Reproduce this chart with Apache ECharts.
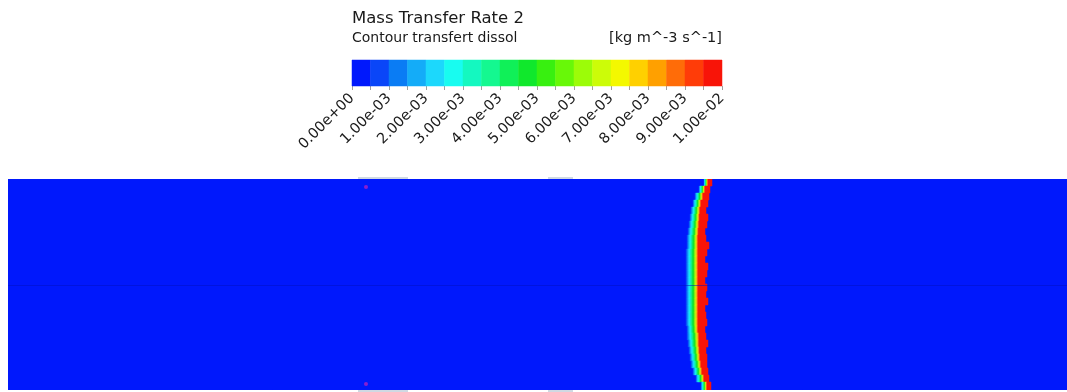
<!DOCTYPE html>
<html><head><meta charset="utf-8">
<script src="https://cdn.jsdelivr.net/npm/echarts@6/dist/echarts.min.js"></script>
<style>html,body{margin:0;padding:0;background:#fff}#c{width:1067px;height:392px}</style>
</head><body><div id="c"></div>
<script>
// 20 colour bands of the legend (low -> high)
const bandColors = ['#0018fc','#0a46f8','#0a7cf4','#14acf8','#1cd8fc','#18fcf0','#14f8c0','#14f890','#10f058','#10e82c',
                    '#38f010','#68f808','#9cfc08','#ccfc08','#f4f800','#ffd000','#ffa000','#ff6c08','#ff3c08','#f81408'];
const bandLevels = [0,0.0005,0.001,0.0015,0.002,0.0025,0.003,0.0035,0.004,0.0045,0.005,
                    0.0055,0.006,0.0065,0.007,0.0075,0.008,0.0085,0.009,0.0095,0.01];
const tickLabels = ['0.00e+00','1.00e-03','2.00e-03','3.00e-03','4.00e-03','5.00e-03',
                    '6.00e-03','7.00e-03','8.00e-03','9.00e-03','1.00e-02'];

// domain (pipe section) extents, in domain units
const domainX = [0, 1059];
const domainY = [0, 211];
const backgroundValue = 0;

// front rows: row edges (y) and, per row, start of gradient, start / end of the red core
const rowEdges = [0,7,14,21,28,35,42,49,56,63,70,77,84,91,98,105,112,119,126,133,140,
                  147,154,161,168,175,182,189,196,203,211];
const frontLeft = [696,691,687,685,683,682,681,680,679,679,678,678,678,678,678,678,678,678,678,678,
                   678,679,679,680,681,682,683,685,688,693];
const redLeft   = [700,697,695,693,692,691.5,691,690.5,690,690,690,690,690,690,690,690,690,690,690,690,
                   690,690,691,691,691.5,692,693,694,696,699];
const redRight  = [704,702,701,700,698,700,699,697,698,701,699,697,700,699,697,699,698,700,697,698,
                   699,697,698,700,698,699,699,700,701,703];
// cross-section of the value through the gradient, left to right
const gradientValues = [0.0008,0.0012,0.0017,0.0022,0.0027,0.0032,0.0037,0.0042,0.0047,0.0053,0.006,0.0068,0.0078,0.0088];
const coreValue = 0.0099;

// small details
const tabs = [[350,400],[540,565]];
const hotSpots = [[358,8],[358,205]];
const centerLineY = 106;

function bandIndex(v){ return Math.max(0, Math.min(bandColors.length - 1, Math.floor(v / 0.0005 + 1e-9))); }

const cells = [[domainX[0], domainX[1], domainY[0], domainY[1], backgroundValue]];
for (let k = 0; k < frontLeft.length; k++) {
  const y0 = rowEdges[k], y1 = rowEdges[k + 1];
  const n = gradientValues.length;
  const w = (redLeft[k] - frontLeft[k]) / n;
  for (let j = 0; j < n; j++) {
    cells.push([frontLeft[k] + j * w, frontLeft[k] + (j + 1) * w, y0, y1, gradientValues[j]]);
  }
  cells.push([redLeft[k], redRight[k], y0, y1, coreValue]);
}
const legendCells = [];
for (let i = 0; i < bandLevels.length - 1; i++) {
  legendCells.push([bandLevels[i], bandLevels[i + 1], 0, 1, (bandLevels[i] + bandLevels[i + 1]) / 2]);
}
const tabCells = [];
tabs.forEach(t => { tabCells.push([t[0], t[1], -2, 0]); tabCells.push([t[0], t[1], 211, 213]); });

function rectOf(api) {
  const p0 = api.coord([api.value(0), api.value(2)]);
  const p1 = api.coord([api.value(1), api.value(3)]);
  return {x: Math.min(p0[0], p1[0]), y: Math.min(p0[1], p1[1]),
          width: Math.abs(p1[0] - p0[0]), height: Math.abs(p1[1] - p0[1])};
}
function renderCell(params, api) {
  const c = bandColors[bandIndex(api.value(4))];
  return {type: 'rect', shape: rectOf(api), style: {fill: c, stroke: c, lineWidth: 0.5}};
}
function renderTab(params, api) {
  return {type: 'rect', shape: rectOf(api), style: {fill: '#cfd9e3'}};
}

const chart = echarts.init(document.getElementById('c'), null, {renderer: 'canvas'});
const font = 'DejaVu Sans, sans-serif';
chart.setOption({
  animation: false,
  backgroundColor: '#ffffff',
  title: [
    {text: 'Mass Transfer Rate 2', left: 352, top: 10, padding: 0,
     textStyle: {fontSize: 16.5, fontWeight: 'normal', color: '#1a1a1a', fontFamily: font}},
    {text: 'Contour transfert dissol', left: 352, top: 31, padding: 0,
     textStyle: {fontSize: 14, fontWeight: 'normal', color: '#1a1a1a', fontFamily: font}},
    {text: '[kg m^-3 s^-1]', right: 345, top: 31, padding: 0,
     textStyle: {fontSize: 14.5, fontWeight: 'normal', color: '#1a1a1a', fontFamily: font}}
  ],
  grid: [
    {left: 8, top: 179, width: 1059, height: 211, containLabel: false},
    {left: 352, top: 60, width: 370, height: 26, containLabel: false}
  ],
  xAxis: [
    {gridIndex: 0, type: 'value', min: domainX[0], max: domainX[1], show: false},
    {gridIndex: 1, type: 'value', min: 0, max: 0.01, interval: 0.001,
     axisLine: {show: false}, splitLine: {show: false},
     axisTick: {show: true, length: 4, lineStyle: {color: '#a0a0a0'}},
     minorTick: {show: true, splitNumber: 2, length: 4, lineStyle: {color: '#a0a0a0'}},
     axisLabel: {rotate: 45, margin: 10, fontSize: 14.5, color: '#1a1a1a', fontFamily: font,
                 formatter: function (v) { return tickLabels[Math.round(v / 0.001)]; }}}
  ],
  yAxis: [
    {gridIndex: 0, type: 'value', min: domainY[0], max: domainY[1], inverse: true, show: false},
    {gridIndex: 1, type: 'value', min: 0, max: 1, show: false}
  ],
  series: [
    {type: 'custom', xAxisIndex: 0, yAxisIndex: 0, renderItem: renderCell, data: cells,
     encode: {x: [0, 1], y: [2, 3]}, silent: true, clip: true,
     markLine: {silent: true, symbol: ['none', 'none'], label: {show: false},
                lineStyle: {color: '#0010c0', width: 1, type: 'solid', opacity: 0.5},
                data: [{yAxis: centerLineY}]}},
    {type: 'custom', xAxisIndex: 0, yAxisIndex: 0, renderItem: renderTab, data: tabCells,
     encode: {x: [0, 1], y: [2, 3]}, silent: true, clip: false},
    {type: 'scatter', xAxisIndex: 0, yAxisIndex: 0, data: hotSpots, symbol: 'circle', symbolSize: 4,
     itemStyle: {color: '#a020c8', opacity: 0.85}, silent: true},
    {type: 'custom', xAxisIndex: 1, yAxisIndex: 1, renderItem: renderCell, data: legendCells,
     encode: {x: [0, 1], y: [2, 3]}, silent: true}
  ]
});
</script>
</body></html>
